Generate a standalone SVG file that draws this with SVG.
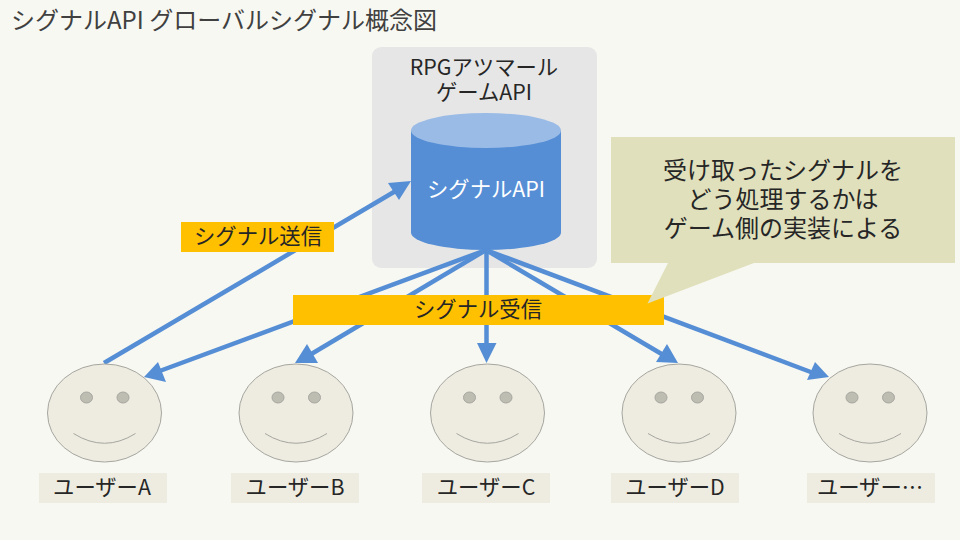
<svg xmlns="http://www.w3.org/2000/svg" width="960" height="540" viewBox="0 0 960 540">
<defs>
<style>
text{font-family:"Noto Sans CJK JP","Noto Sans",sans-serif;fill:#262626;text-anchor:middle}
.t{font-size:21.330px}
.l{font-size:21.330px}
.c{font-size:24px}
.face{fill:#eeece1;stroke:#a6a6a0;stroke-width:1}
.eye{fill:#bebdb2;stroke:#a6a6a0;stroke-width:1}
.mouth{fill:none;stroke:#a6a6a0;stroke-width:1}
.lab{fill:#eeece1}
.arrow{stroke:#558ed5;stroke-width:4.500;fill:none}
.head{fill:#558ed5}
</style>
<g id="smile">
<ellipse class="face" cx="0" cy="0" rx="57" ry="49"/>
<ellipse class="eye" cx="-18" cy="-15.500" rx="6" ry="5.500"/>
<ellipse class="eye" cx="18.500" cy="-15.500" rx="6" ry="5.500"/>
<path class="mouth" d="M-31 20.500Q0 40 31 20.500"/>
</g>
</defs>
<rect width="960" height="540" fill="#f8f8f2"/>
<text x="11" y="29" font-size="24" style="text-anchor:start;fill:#404040">シグナルAPI グローバルシグナル概念図</text>
<g id="api-box">
<rect x="372" y="47" width="225" height="221" rx="9" fill="#e6e6e6"/>
<text class="t" x="484" y="75">RPGアツマール</text>
<text class="t" x="484" y="100">ゲームAPI</text>
</g>
<g id="signal-api">
<path d="M411 131V232.500A75 17.500 0 0 0 561 232.500V131Z" fill="#558ed5"/>
<ellipse cx="486" cy="130.500" rx="75" ry="17.500" fill="#9abbe6"/>
<text class="l" x="486" y="197" style="fill:#fff">シグナルAPI</text>
</g>
<g id="connectors">
<path class="arrow" d="M104 363L399 189"/>
<path class="head" d="M411 181L388 183L399 200Z"/>
<path class="arrow" d="M486 250L157 372"/>
<path class="head" d="M144 377L158 362L166 382Z"/>
<path class="arrow" d="M486 250L308 356"/>
<path class="head" d="M295 363L307 344L318 363Z"/>
<path class="arrow" d="M486.500 250V350"/>
<path class="head" d="M486.500 363L477 343H496.500Z"/>
<path class="arrow" d="M486 250L665 356"/>
<path class="head" d="M678 363L656 362L667 344Z"/>
<path class="arrow" d="M486 250L816 374"/>
<path class="head" d="M829 377L807 380L815 362Z"/>
</g>
<g id="send-label">
<rect x="181" y="222" width="153" height="30" fill="#ffc000"/>
<text class="l" x="258" y="244">シグナル送信</text>
</g>
<g id="receive-label">
<rect x="293" y="295" width="371" height="30" fill="#ffc000"/>
<text class="l" x="478" y="317">シグナル受信</text>
</g>
<g id="callout">
<path d="M611 137H955V263H754L647.500 303.500L668 263H611Z" fill="#e0e0bc"/>
<text class="c" x="783" y="179">受け取ったシグナルを</text>
<text class="c" x="783" y="208">どう処理するかは</text>
<text class="c" x="783" y="237">ゲーム側の実装による</text>
</g>
<g id="user-a"><use href="#smile" x="104.500" y="413"/><rect class="lab" x="39" y="473" width="128" height="30"/><text class="l" x="102" y="495">ユーザーA</text></g>
<g id="user-b"><use href="#smile" x="296" y="413"/><rect class="lab" x="231" y="473" width="128" height="30"/><text class="l" x="295" y="495">ユーザーB</text></g>
<g id="user-c"><use href="#smile" x="487.500" y="413"/><rect class="lab" x="422" y="473" width="128" height="30"/><text class="l" x="486" y="495">ユーザーC</text></g>
<g id="user-d"><use href="#smile" x="679" y="413"/><rect class="lab" x="611" y="473" width="128" height="30"/><text class="l" x="675" y="495">ユーザーD</text></g>
<g id="user-etc"><use href="#smile" x="870" y="413"/><rect class="lab" x="807" y="473" width="128" height="30"/><text class="l" x="870" y="495">ユーザー…</text></g>
</svg>
